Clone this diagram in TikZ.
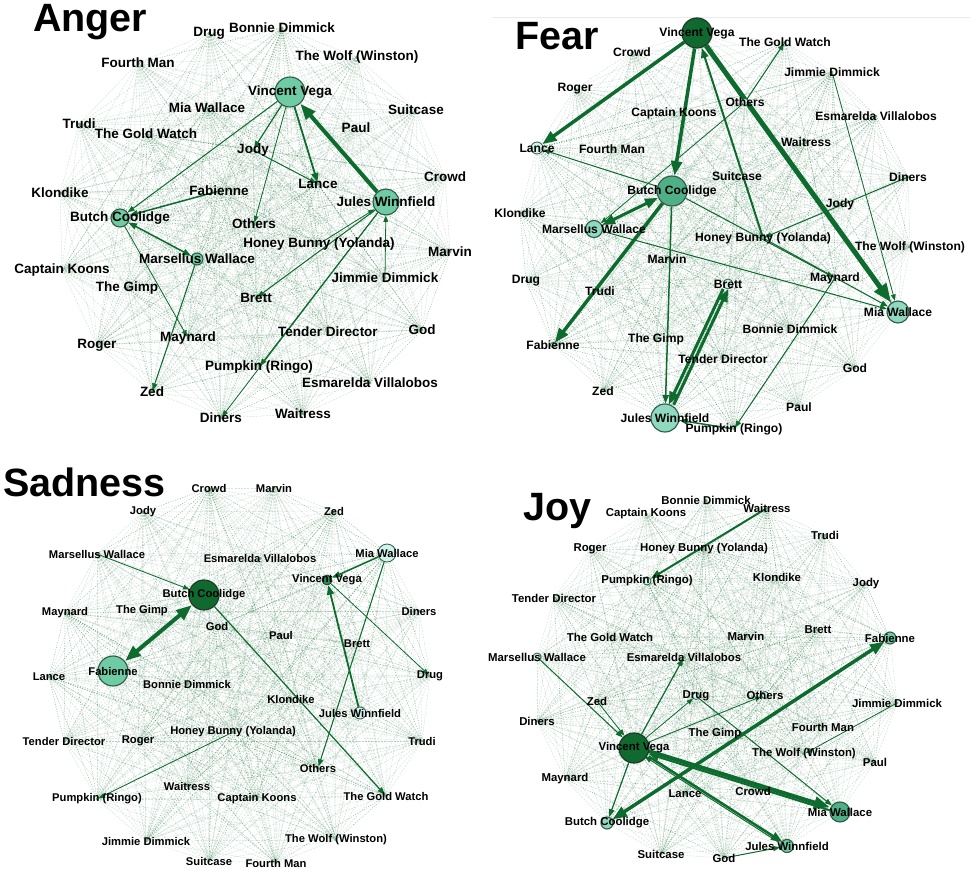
\documentclass[tikz,border=0pt]{standalone}
\usepackage{fontspec}
\setmainfont{Liberation Sans}
\usetikzlibrary{arrows.meta}
\definecolor{dg}{HTML}{0E6B2E}
\definecolor{dkfill}{HTML}{106A30}
\definecolor{dkedge}{HTML}{1D3B27}
\definecolor{dk2fill}{HTML}{2E8A5A}
\definecolor{mdfill}{HTML}{6FCBA3}
\definecolor{md2fill}{HTML}{4FAF86}
\definecolor{ltfill}{HTML}{8FD9C1}
\definecolor{plfill}{HTML}{D2F2EB}
\definecolor{nedge}{HTML}{2F5A47}
\definecolor{tnfill}{HTML}{6FAF8A}
\definecolor{meshc}{HTML}{5E9470}
\pgfdeclarelayer{mesh}
\pgfdeclarelayer{edges}
\pgfdeclarelayer{labels}
\pgfsetlayers{mesh,edges,main,labels}
\tikzset{
  tn/.style={circle, inner sep=0pt, fill=tnfill},
  dk/.style={circle, inner sep=0pt, fill=dkfill, draw=dkedge, line width=1.2pt},
  dk2/.style={circle, inner sep=0pt, fill=dk2fill, draw=dkedge, line width=0.8pt},
  md/.style={circle, inner sep=0pt, fill=mdfill, draw=nedge, line width=1.1pt},
  md2/.style={circle, inner sep=0pt, fill=md2fill, draw=nedge, line width=1.1pt},
  lt/.style={circle, inner sep=0pt, fill=ltfill, draw=nedge, line width=1.1pt},
  pl/.style={circle, inner sep=0pt, fill=plfill, draw=nedge, line width=0.8pt},
  lbl/.style={inner sep=0pt, anchor=center, text=black},
  meshline/.style={draw=meshc, draw opacity=0.27, line width=0.5pt, dash pattern=on 2pt off 1.2pt},
  meshdark/.style={draw=dg, draw opacity=0.45, line width=0.55pt, dash pattern=on 1pt off 1.5pt},
  ar/.style={draw=dg, line width=#1pt, -{Triangle[length=4pt 3, width=3pt 2.2]}},
  arb/.style={draw=dg, line width=#1pt, {Triangle[length=4pt 3, width=3pt 2.2]}-{Triangle[length=4pt 3, width=3pt 2.2]}},
  ttl/.style={anchor=base west, inner sep=0pt, font=\fontsize{39.5}{40}\selectfont\bfseries}
}
\newcommand\drawpanel[3]{%
  \foreach \k/\x/\y/\st/\sz/\t [count=\i] in {#3} {
    \node[\st, minimum size=\sz pt] (#1-\k) at (\x,\y) {};
    \coordinate (#1\i) at (\x,\y);
    \begin{pgfonlayer}{labels}
      \node[lbl, font=\fontsize{#2}{#2}\selectfont\bfseries] (#1-\k-l) at (\x,\y) {\t};
    \end{pgfonlayer}
  }
  \begin{pgfonlayer}{mesh}
  \foreach \i in {1,...,33} {
    \pgfmathtruncatemacro\jj{\i+1}
    \foreach \j in {\jj,...,34} {
      \pgfmathtruncatemacro\mm{mod(\i*7+\j*3,6)}
      \ifnum\mm=0
        \draw[meshdark] (#1\i) -- (#1\j);
      \else
        \draw[meshline] (#1\i) -- (#1\j);
      \fi
    }
  }
  \end{pgfonlayer}
}
\begin{document}
\begin{tikzpicture}[x=1pt, y=-1pt]
\useasboundingbox (0,0) rectangle (970,872);

% ---------------- Anger ----------------
\node[ttl] (tAnger) at (33,32) {Anger};
\drawpanel{A}{13.5}{
vv/290/92/md/30/Vincent Vega,
jw/386/202/md/26/Jules Winnfield,
bc/120/218/md/18/Butch Coolidge,
mw/197/259/md/12/Marsellus Wallace,
drug/209/33/tn/3/Drug,
bd/282/28/tn/3/Bonnie Dimmick,
wolf/357/57/tn/3/The Wolf (Winston),
fm/138/63/tn/3/Fourth Man,
mia/207/108/tn/3/Mia Wallace,
suit/416/110/tn/3/Suitcase,
trudi/79/124/tn/3/Trudi,
gw/146/134/tn/3/The Gold Watch,
paul/356/128/tn/3/Paul,
jody/253/150/tn/3/Jody,
lance/318/184/tn/3/Lance,
crowd/445/177/tn/3/Crowd,
klon/60/193/tn/3/Klondike,
fab/219/191/tn/3/Fabienne,
oth/254/224/tn/3/Others,
hb/319/244/tn/3/Honey Bunny (Yolanda),
marvin/450/252/tn/3/Marvin,
ck/62/270/tn/3/Captain Koons,
jd/385/278/tn/3/Jimmie Dimmick,
gimp/127/288/tn/3/The Gimp,
brett/256/298/tn/3/Brett,
td/328/332/tn/3/Tender Director,
god/422/330/tn/3/God,
may/188/338/tn/3/Maynard,
roger/97/345/tn/3/Roger,
pump/259/367/tn/3/Pumpkin (Ringo),
esm/370/383/tn/3/Esmarelda Villalobos,
zed/152/392/tn/3/Zed,
diners/221/418/tn/3/Diners,
wait/303/414/tn/3/Waitress}
\begin{pgfonlayer}{edges}
\draw[ar=4] (A-jw) -- (A-vv);
\draw[ar=1.2] (A-vv) -- (A-jody);
\draw[ar=1.8] (A-vv) -- (A-lance);
\draw[ar=1] (A-vv) -- (A-bc);
\draw[ar=1] (A-jody) -- (A-lance);
\draw[ar=1.5] (A-fab) -- (A-bc);
\draw[arb=1.5] (A-bc) -- (A-mw);
\draw[ar=0.8] (A-vv) -- (A-oth);
\draw[ar=1] (A-jw) -- (A-brett);
\draw[ar=1] (A-jw) -- (A-pump);
\draw[ar=0.8] (A-jw) -- (A-diners);
\draw[ar=1] (A-mw) -- (A-zed);
\draw[ar=0.8] (A-bc) -- (A-may);
\draw[ar=0.8] (A-jd) -- (A-jw);
\draw[ar=0.8] (A-hb) -- (A-jw);
\end{pgfonlayer}

% ---------------- Fear ----------------
\draw[black!8, line width=0.8pt] (492,17) -- (970,17);
\node[ttl] (tFear) at (515,50) {Fear};
\drawpanel{F}{12.1}{
vv/697/33/dk/30/Vincent Vega,
bc/672/191/md2/30/Butch Coolidge,
jw/665/418/lt/28/Jules Winnfield,
mia/898/312/lt/22/Mia Wallace,
mw/594/229/lt/17/Marsellus Wallace,
lance/537/148/pl/12/Lance,
brett/728/284/pl/10/Brett,
oth/745/102/pl/7/Others,
fab/553/345/pl/5/Fabienne,
gw/785/42/tn/3/The Gold Watch,
crowd/632/52/tn/3/Crowd,
jd/832/72/tn/3/Jimmie Dimmick,
roger/575/89/tn/3/Roger,
ck/674/113/tn/3/Captain Koons,
esm/876/116/tn/3/Esmarelda Villalobos,
fm/612/149/tn/3/Fourth Man,
wait/806/142/tn/3/Waitress,
suit/737/176/tn/3/Suitcase,
diners/908/177/tn/3/Diners,
jody/840/204/tn/3/Jody,
klon/520/213/tn/3/Klondike,
hb/763/238/tn/3/Honey Bunny (Yolanda),
wolf/910/247/tn/3/The Wolf (Winston),
marvin/667/259/tn/3/Marvin,
drug/526/281/tn/3/Drug,
may/835/278/tn/3/Maynard,
trudi/600/291/tn/3/Trudi,
bd/790/329/tn/3/Bonnie Dimmick,
gimp/656/339/tn/3/The Gimp,
td/723/359/tn/3/Tender Director,
god/855/368/tn/3/God,
zed/603/391/tn/3/Zed,
paul/799/407/tn/3/Paul,
pump/734/429/tn/3/Pumpkin (Ringo)}
\begin{pgfonlayer}{edges}
\draw[ar=3.5] (F-vv) -- (F-lance);
\draw[ar=3.5] (F-vv) -- (F-bc);
\draw[ar=5] (F-vv) -- (F-mia);
\draw[ar=1.2] (F-mia) -- (F-vv);
\draw[ar=2] (F-hb) -- (F-vv);
\draw[arb=3] (F-bc) -- (F-mw);
\draw[ar=3.5] (F-bc) -- (F-fab);
\draw[ar=3, transform canvas={xshift=2.5pt}] (F-jw) -- (F-brett);
\draw[ar=3, transform canvas={xshift=-2.5pt}] (F-brett) -- (F-jw);
\draw[ar=1] (F-oth) -- (F-gw);
\draw[ar=1] (F-bc) -- (F-lance);
\draw[ar=1] (F-bc) -- (F-may);
\draw[ar=1] (F-hb) -- (F-mia);
\draw[ar=1] (F-mw) -- (F-mia);
\draw[ar=1] (F-diners) -- (F-hb);
\draw[ar=1] (F-may) -- (F-pump);
\draw[ar=1.5] (F-pump) -- (F-jw);
\draw[ar=1.5] (F-bc) -- (F-jw);
\draw[ar=0.8] (F-oth) -- (F-mw);
\draw[ar=0.8] (F-jd) -- (F-mia);
\end{pgfonlayer}

% ---------------- Sadness ----------------
\node[ttl] (tSad) at (3,496) {Sadness};
\drawpanel{S}{11.2}{
bc/204/595/dk/30/Butch Coolidge,
fab/113/671/md/30/Fabienne,
mia/387/553/pl/18/Mia Wallace,
vv/327/580/dk2/10/Vincent Vega,
jw/360/713/pl/12/Jules Winnfield,
crowd/209/488/tn/3/Crowd,
marvin/274/488/tn/3/Marvin,
jody/143/512/tn/3/Jody,
zed/334/511/tn/3/Zed,
mw/97/554/tn/3/Marsellus Wallace,
esm/260/558/tn/3/Esmarelda Villalobos,
may/65/613/tn/3/Maynard,
gimp/142/611/tn/3/The Gimp,
diners/419/611/tn/3/Diners,
god/217/626/tn/3/God,
paul/281/635/tn/3/Paul,
brett/357/644/tn/3/Brett,
lance/49/677/tn/3/Lance,
drug/430/676/tn/3/Drug,
bd/187/684/tn/3/Bonnie Dimmick,
klon/291/699/tn/3/Klondike,
td/64/741/tn/3/Tender Director,
roger/138/741/tn/3/Roger,
hb/233/732/tn/3/Honey Bunny (Yolanda),
trudi/422/741/tn/3/Trudi,
oth/318/768/tn/3/Others,
wait/187/786/tn/3/Waitress,
pump/97/799/tn/3/Pumpkin (Ringo),
ck/257/799/tn/3/Captain Koons,
gw/386/796/tn/3/The Gold Watch,
jd/146/841/tn/3/Jimmie Dimmick,
wolf/336/840/tn/3/The Wolf (Winston),
suit/209/861/tn/3/Suitcase,
fm/276/863/tn/3/Fourth Man}
\begin{pgfonlayer}{edges}
\draw[arb=4] (S-fab) -- (S-bc);
\draw[ar=1.5] (S-mia) -- (S-vv);
\draw[ar=1.8] (S-jw) -- (S-vv);
\draw[ar=1.2] (S-bc) -- (S-gw);
\draw[ar=1] (S-mia) -- (S-oth);
\draw[ar=0.8] (S-vv) -- (S-drug);
\draw[ar=0.8] (S-hb) -- (S-pump);
\draw[ar=0.8] (S-mw) -- (S-bc);
\end{pgfonlayer}

% ---------------- Joy ----------------
\node[ttl] (tJoy) at (523,520) {Joy};
\drawpanel{J}{11.4}{
vv/634/748/dk/30/Vincent Vega,
mia/840/812/md2/20/Mia Wallace,
fab/890/638/md/12/Fabienne,
bc/607/823/lt/12/Butch Coolidge,
jw/787/846/md/13/Jules Winnfield,
pump/647/581/pl/8/Pumpkin (Ringo),
mw/537/657/pl/8/Marsellus Wallace,
drug/696/696/pl/7/Drug,
oth/765/695/pl/7/Others,
bd/706/500/tn/3/Bonnie Dimmick,
ck/646/514/tn/3/Captain Koons,
wait/767/508/tn/3/Waitress,
trudi/825/535/tn/3/Trudi,
roger/590/549/tn/3/Roger,
hb/704/549/tn/3/Honey Bunny (Yolanda),
klon/777/577/tn/3/Klondike,
jody/866/584/tn/3/Jody,
td/554/598/tn/3/Tender Director,
gw/610/637/tn/3/The Gold Watch,
marvin/746/636/tn/3/Marvin,
brett/818/630/tn/3/Brett,
esm/684/657/tn/3/Esmarelda Villalobos,
zed/597/701/tn/3/Zed,
jd/897/703/tn/3/Jimmie Dimmick,
diners/537/721/tn/3/Diners,
fm/823/727/tn/3/Fourth Man,
gimp/715/734/tn/3/The Gimp,
wolf/804/754/tn/3/The Wolf (Winston),
paul/875/762/tn/3/Paul,
may/565/779/tn/3/Maynard,
lance/685/794/tn/3/Lance,
crowd/753/791/tn/3/Crowd,
suit/661/854/tn/3/Suitcase,
god/724/858/tn/3/God}
\begin{pgfonlayer}{edges}
\draw[ar=2] (J-wait) -- (J-pump);
\draw[arb=3.5] (J-bc) -- (J-fab);
\draw[ar=4, transform canvas={yshift=1.5pt}] (J-vv) -- (J-mia);
\draw[ar=2, transform canvas={yshift=-1.5pt}] (J-mia) -- (J-vv);
\draw[ar=2.5, transform canvas={xshift=1.5pt}] (J-vv) -- (J-jw);
\draw[ar=1, transform canvas={xshift=-2.5pt}] (J-jw) -- (J-vv);
\draw[ar=1.2] (J-vv) -- (J-bc);
\draw[ar=1.2] (J-vv) -- (J-esm);
\draw[ar=1] (J-mw) -- (J-vv);
\draw[ar=0.8] (J-vv) -- (J-drug);
\draw[ar=0.8] (J-vv) -- (J-oth);
\draw[ar=1] (J-drug) -- (J-mia);
\draw[ar=0.8] (J-jd) -- (J-wolf);
\draw[ar=1] (J-god) -- (J-jw);
\draw[ar=0.8] (J-zed) -- (J-vv);
\end{pgfonlayer}
\end{tikzpicture}
\end{document}
